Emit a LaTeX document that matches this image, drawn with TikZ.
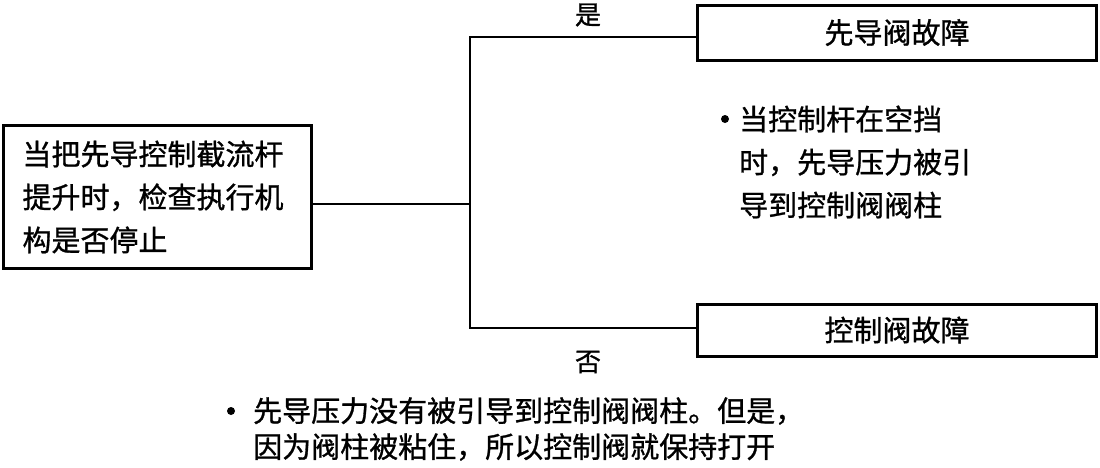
\documentclass[tikz,border=0pt]{standalone}
\usepackage{fontspec}
\setmainfont{Noto Sans CJK SC}[FakeBold=1]
\begin{document}
\begin{tikzpicture}[x=1pt,y=-1pt,
  box/.style={draw,line width=3pt,inner sep=0pt},
  conn/.style={line width=1.6pt},
  txt/.style={font=\fontsize{29}{43}\selectfont, inner sep=0pt, align=left},
  lbl/.style={font=\fontsize{26}{30}\selectfont, inner sep=0pt},
  dot/.style={circle,fill,inner sep=0pt,minimum size=8pt}]
\useasboundingbox (0,0) rectangle (1100,467);
\node[box,minimum width=308pt,minimum height=143pt,txt,text width=270pt] (q) at (157.5,197) {当把先导控制截流杆\\提升时，检查执行机\\构是否停止};
\node[box,minimum width=399pt,minimum height=55pt,font=\fontsize{29}{34}\selectfont] (pv) at (897,32.5) {先导阀故障};
\node[box,minimum width=399pt,minimum height=52pt,font=\fontsize{29}{34}\selectfont] (cv) at (897,330) {控制阀故障};
\coordinate (j) at (470,204);
\coordinate (jt) at (470,37);
\coordinate (jb) at (470,328);
\draw[conn] (j -| q.east) -- (j);
\draw[conn] (jt -| pv.west) -- (jt) -- (jb) -- (jb -| cv.west);
\node[lbl] (yes) at (588,15) {是};
\node[lbl] (no) at (588,362) {否};
\node[dot] (d1) at (725,119) {};
\node[txt,anchor=west] (t1) at (739,162) {当控制杆在空挡\\时，先导压力被引\\导到控制阀阀柱};
\node[dot] (d2) at (231,411) {};
\node[txt,anchor=west,font=\fontsize{29}{36}\selectfont] (t2) at (253,429) {先导压力没有被引导到控制阀阀柱。但是，\\因为阀柱被粘住，所以控制阀就保持打开};
\end{tikzpicture}
\end{document}
